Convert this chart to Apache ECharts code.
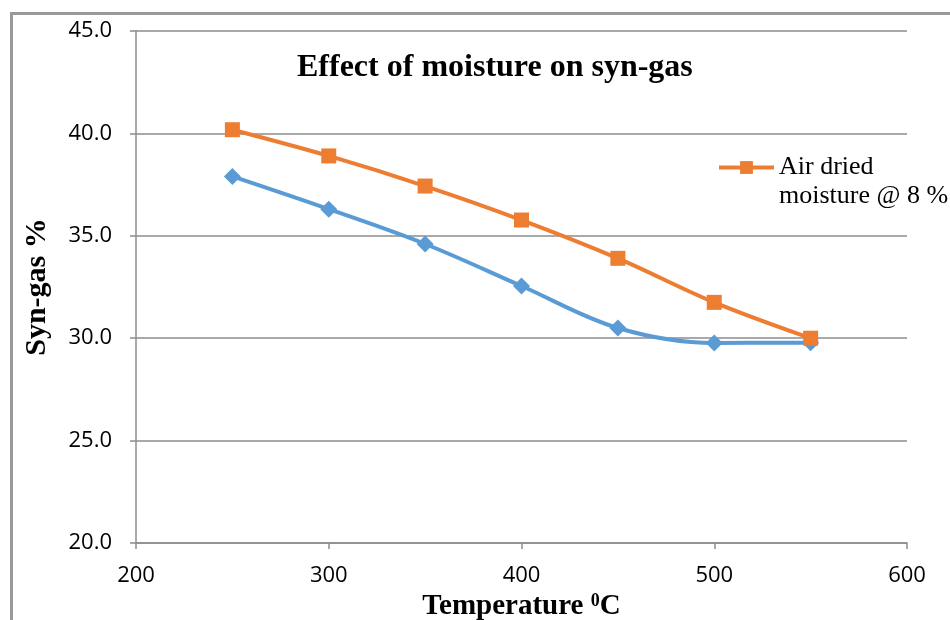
<!DOCTYPE html>
<html>
<head>
<meta charset="utf-8">
<script src="https://cdn.jsdelivr.net/npm/echarts@6/dist/echarts.min.js"></script>
<style>
html,body{margin:0;padding:0;background:#fff;}
#chart{width:950px;height:620px;}
</style>
</head>
<body>
<div id="chart"></div>
<script>
const temperatures = [250, 300, 350, 400, 450, 500, 550];
const ovenDried = [37.9, 36.3, 34.6, 32.55, 30.5, 29.77, 29.78];
const airDried = [40.18, 38.9, 37.43, 35.77, 33.9, 31.75, 30.0];
const yTicks = { min: 20, max: 45, interval: 5 };
const xTicks = { min: 200, max: 600, interval: 100 };
const blueName = 'Oven dried';
const orangeName = 'Air dried\nmoisture @ 8 %';

const pair = (xs, ys) => xs.map((x, i) => [x, ys[i]]);
const serif = '"Liberation Serif", "Times New Roman", serif';
const sans = '"Open Sans", "Noto Sans", sans-serif';
const gray = '#8c8c8c';

const chart = echarts.init(document.getElementById('chart'), null, { renderer: 'canvas' });
chart.setOption({
  animation: false,
  backgroundColor: '#fff',
  graphic: [{
    type: 'rect', left: 9, top: 11, shape: { width: 1200, height: 900 },
    style: { fill: 'none', stroke: '#9a9a9a', lineWidth: 3 }, silent: true, z: -1
  }],
  title: {
    text: 'Effect of moisture on syn-gas',
    left: 292, top: 47,
    textStyle: { fontFamily: serif, fontWeight: 'bold', fontSize: 32, color: '#000' }
  },
  legend: {
    data: [orangeName],
    formatter: name => '\n' + name,
    left: 712, top: 119,
    itemWidth: 55, itemHeight: 16, itemGap: 5,
    lineStyle: { width: 4 },
    textStyle: { fontFamily: serif, fontSize: 26, color: '#000', lineHeight: 29 }
  },
  grid: { left: 136, right: 43, top: 31, bottom: 77, containLabel: false, outerBoundsMode: 'none' },
  xAxis: {
    type: 'value', min: xTicks.min, max: xTicks.max, interval: xTicks.interval,
    name: 'Temperature {sup|0}C', nameLocation: 'middle', nameGap: 48,
    nameTextStyle: {
      fontFamily: serif, fontWeight: 'bold', fontSize: 29, color: '#000',
      rich: { sup: { fontFamily: serif, fontWeight: 'bold', fontSize: 18, verticalAlign: 'top', padding: [0, 0, 12, 0], color: '#000' } }
    },
    axisLine: { show: true, lineStyle: { color: gray, width: 1.5 } },
    axisTick: { show: true, length: 6, lineStyle: { color: gray, width: 1.5 } },
    axisLabel: { margin: 22, fontFamily: sans, fontSize: 22, color: '#000' },
    splitLine: { show: false }
  },
  yAxis: {
    type: 'value', min: yTicks.min, max: yTicks.max, interval: yTicks.interval,
    name: 'Syn-gas %', nameLocation: 'middle', nameGap: 84,
    nameTextStyle: { fontFamily: serif, fontWeight: 'bold', fontSize: 30, color: '#000' },
    axisLine: { show: true, lineStyle: { color: gray, width: 1.5 } },
    axisTick: { show: true, length: 6, lineStyle: { color: gray, width: 1.5 } },
    axisLabel: { margin: 24, fontFamily: sans, fontSize: 22, color: '#000', padding: [4, 0, 0, 0], formatter: v => v.toFixed(1) },
    splitLine: { show: true, lineStyle: { color: gray, width: 1.5 } }
  },
  series: [
    {
      name: blueName, type: 'line', data: pair(temperatures, ovenDried),
      smooth: 0.35, symbol: 'diamond', symbolSize: 17,
      lineStyle: { color: '#5b9bd5', width: 4 },
      itemStyle: { color: '#5b9bd5' }
    },
    {
      name: orangeName, type: 'line', data: pair(temperatures, airDried),
      smooth: 0.35, symbol: 'rect', symbolSize: 15,
      lineStyle: { color: '#ed7d31', width: 4 },
      itemStyle: { color: '#ed7d31' }
    }
  ]
});
</script>
</body>
</html>
